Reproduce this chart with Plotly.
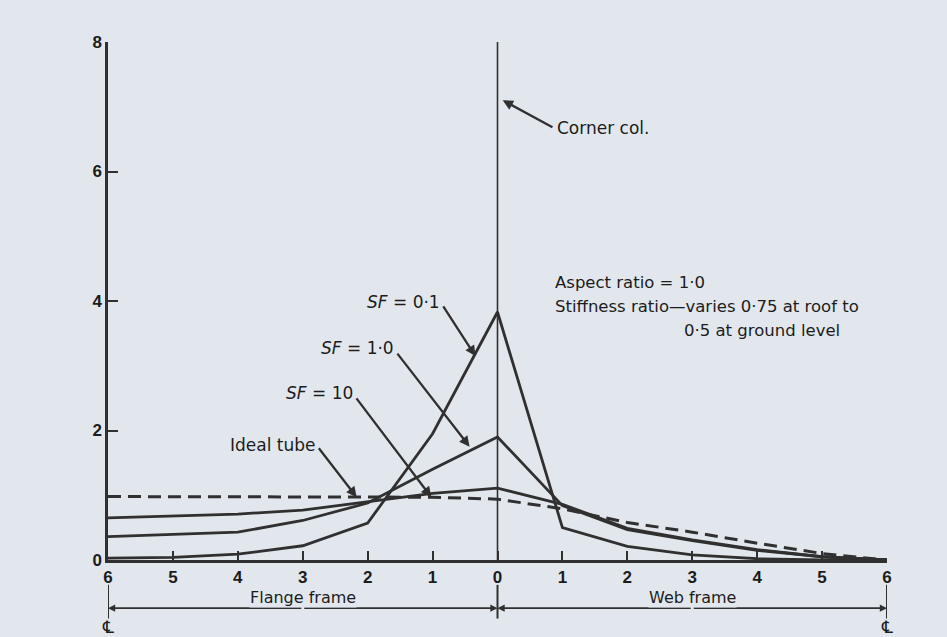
import plotly.graph_objects as go

# Position across frames: negative = flange frame (distance from corner), positive = web frame
x_pos = [-6, -5, -4, -3, -2, -1, 0, 1, 2, 3, 4, 5, 6]
tick_labels = ["6", "5", "4", "3", "2", "1", "0", "1", "2", "3", "4", "5", "6"]
y_ticks = [0, 2, 4, 6, 8]

sf_01 = [0.03, 0.04, 0.09, 0.22, 0.57, 1.95, 3.83, 0.50, 0.21, 0.08, 0.02, 0.0, 0.0]
sf_10 = [0.36, 0.39, 0.43, 0.61, 0.88, 1.40, 1.90, 0.84, 0.47, 0.30, 0.15, 0.05, 0.0]
sf_100 = [0.65, 0.68, 0.71, 0.77, 0.90, 1.03, 1.11, 0.86, 0.49, 0.31, 0.16, 0.05, 0.0]
ideal = [0.98, 0.98, 0.98, 0.98, 0.98, 0.97, 0.94, 0.79, 0.58, 0.43, 0.26, 0.10, 0.0]

BG = "rgb(226,231,238)"
INK = "#303030"
TXT = "#1c1c1c"
FONT = "DejaVu Sans, sans-serif"
TICKFONT = "Liberation Sans, Arial, sans-serif"

fig = go.Figure()
for name, ys in [("SF = 0·1", sf_01), ("SF = 1·0", sf_10), ("SF = 10", sf_100)]:
    fig.add_trace(go.Scatter(x=x_pos, y=ys, mode="lines", name=name,
                             line=dict(color=INK, width=2.8), showlegend=False))
fig.add_trace(go.Scatter(x=x_pos, y=ideal, mode="lines", name="Ideal tube",
                         line=dict(color=INK, width=3, dash="13px,7px"), showlegend=False))

fig.update_layout(
    width=947, height=637,
    margin=dict(l=108, r=60, t=42, b=77),
    paper_bgcolor=BG, plot_bgcolor=BG,
    font=dict(family=FONT, color=TXT, size=17),
    xaxis=dict(range=[-6, 6], tickvals=x_pos, ticktext=tick_labels,
               showgrid=False, zeroline=False, showline=True, linecolor=INK, linewidth=2.5,
               ticks="inside", ticklen=9, tickwidth=2, tickcolor=INK,
               tickfont=dict(size=17, family=TICKFONT, color=TXT, weight="bold"),
               fixedrange=True),
    yaxis=dict(range=[0, 8], tickvals=y_ticks,
               showgrid=False, zeroline=False, showline=True, linecolor=INK, linewidth=2.5,
               ticks="inside", ticklen=10, tickwidth=2, tickcolor=INK,
               tickfont=dict(size=17, family=TICKFONT, color=TXT, weight="bold"),
               fixedrange=True),
)

# corner column line
fig.add_shape(type="line", x0=0, x1=0, y0=0, y1=8, xref="x", yref="y",
              line=dict(color=INK, width=1.6))

# frame dimension bars below axis
for xv in [-6, 0, 6]:
    fig.add_shape(type="line", x0=xv, x1=xv, y0=-0.048, y1=-0.113, xref="x", yref="paper",
                  line=dict(color=INK, width=2))

ydim = -0.093
for tip, tail in [(-6, -3), (0, -3), (0, 3), (6, 3)]:
    fig.add_annotation(x=tip, y=ydim, xref="x", yref="paper", axref="x", ax=tail,
                       ayref="pixel", ay=0, text="", showarrow=True,
                       arrowhead=2, arrowsize=0.8, arrowwidth=1.8, arrowcolor=INK)
for xv, label in [(-3, "Flange frame"), (3, "Web frame")]:
    fig.add_annotation(x=xv, y=ydim, xref="x", yref="paper", text=label, showarrow=False,
                       bgcolor=BG, borderpad=0, font=dict(size=16, color=TXT))
for xv in [-6, 6]:
    fig.add_annotation(x=xv, y=-0.129, xref="x", yref="paper", text="℄", showarrow=False,
                       yanchor="middle", font=dict(size=17, family="DejaVu Sans", color=TXT))

# labelled arrows: (text, text right x, text centre y, arrow tail x, tail y, head x, head y)
labels = [
    ("<i>SF</i> = 0·1", -0.86, 3.98, -0.85, 3.94, -0.34, 3.15),
    ("<i>SF</i> = 1·0", -1.57, 3.27, -1.56, 3.21, -0.43, 1.75),
    ("<i>SF</i> = 10", -2.19, 2.58, -2.19, 2.52, -1.02, 0.97),
    ("Ideal tube", -2.77, 1.78, -2.77, 1.75, -2.17, 0.97),
]
for text, tx, ty, ax_, ay_, hx, hy in labels:
    fig.add_annotation(x=tx, y=ty, xref="x", yref="y", text=text, showarrow=False,
                       xanchor="right", yanchor="middle", font=dict(size=17, color=TXT))
    fig.add_annotation(x=hx, y=hy, xref="x", yref="y", axref="x", ayref="y", ax=ax_, ay=ay_,
                       text="", showarrow=True, arrowhead=2, arrowsize=0.9,
                       arrowwidth=2.3, arrowcolor=INK)

fig.add_annotation(x=0.88, y=6.67, xref="x", yref="y", text="Corner col.", showarrow=False,
                   xanchor="left", yanchor="middle", font=dict(size=17, color=TXT))
fig.add_annotation(x=0.08, y=7.1, xref="x", yref="y", axref="x", ayref="y", ax=0.87, ay=6.67,
                   text="", showarrow=True, arrowhead=2, arrowsize=0.9, arrowwidth=2.3,
                   arrowcolor=INK)

for text, tx, ty in [("Aspect ratio = 1·0", 0.86, 4.29),
                     ("Stiffness ratio—varies 0·75 at roof to", 0.86, 3.92),
                     ("0·5 at ground level", 2.84, 3.55)]:
    fig.add_annotation(x=tx, y=ty, xref="x", yref="y", text=text, showarrow=False,
                       xanchor="left", yanchor="middle", font=dict(size=16.5, color=TXT))

fig.write_html(
    "out.html",
    config={"displayModeBar": False},
    post_script="document.body.style.margin='0';document.body.style.background='rgb(226,231,238)';",
)
